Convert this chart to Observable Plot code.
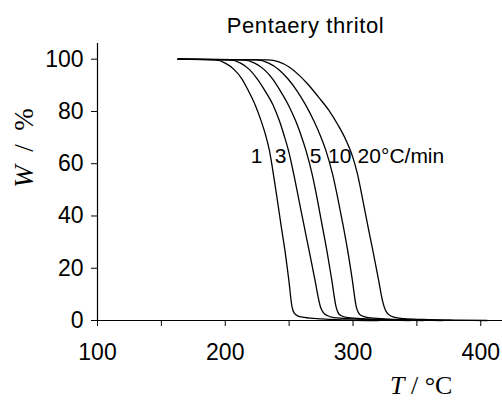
<!DOCTYPE html>
<html><head><meta charset="utf-8">
<script src="https://cdn.jsdelivr.net/npm/d3@7"></script>
<script src="https://cdn.jsdelivr.net/npm/@observablehq/plot@0.6"></script>
<style>body{margin:0;background:#fff} svg{display:block}</style>
</head><body><div id="chart"></div>
<script>
const title = "Pentaery thritol";
const rates = ["1", "3", "5", "10", "20"];
// Temperature (°C) and weight (%)
const t1 = [163, 192, 200, 207, 213, 218, 223.5, 228, 231.6, 234.6, 238, 240.8, 243.8, 246.7, 249.6, 252.3, 254, 256.5, 262, 275, 295, 320];
const w1 = [100, 99.7, 98.5, 96, 92.5, 88, 82.4, 76.5, 70.9, 65, 55, 46, 36, 26.8, 16, 5.1, 2.8, 1.8, 1.2, 0.6, 0.2, 0];
const t3 = [163, 203, 212, 219, 225, 231, 237.5, 242.3, 246, 249.5, 253.6, 257.7, 261.8, 265.6, 270, 274.6, 276.8, 279.8, 285, 300, 320, 345];
const w3 = [100, 99.7, 98.5, 96, 92.5, 88, 82.4, 76.5, 70.9, 65, 56, 46, 36, 26.8, 16, 5.1, 3, 1.9, 1.1, 0.6, 0.25, 0];
const t5 = [163, 213, 223, 230.5, 237, 243, 249.5, 255, 259.3, 263.2, 268, 272.2, 276, 279.5, 283.2, 286.8, 288.3, 290.5, 296, 310, 330, 355];
const w5 = [100, 99.7, 98.5, 96, 92.5, 88, 82.4, 76.5, 70.9, 65, 56, 46, 36, 26.8, 16, 5.1, 3, 1.9, 1.1, 0.6, 0.25, 0];
const t10 = [163, 224, 234, 242, 249, 256, 263, 269.2, 274.3, 278.8, 284, 288.4, 292.4, 295.8, 299.3, 302.6, 304.2, 306.3, 312, 325, 345, 370];
const w10 = [100, 99.7, 98.5, 96, 92.5, 88, 82.4, 76.5, 70.9, 65, 56, 46, 36, 26.8, 16, 5.1, 3, 1.9, 1.1, 0.6, 0.25, 0];
const t20 = [163, 233, 242, 250, 257.5, 264, 273, 281, 288, 294.5, 299.8, 303.5, 307.7, 312.3, 315.5, 319.8, 323, 325.3, 328, 333, 340, 355, 380, 405];
const w20 = [100, 99.7, 99, 97, 94, 90.8, 85.5, 80.5, 75, 69, 62.5, 56, 46, 34.5, 26.8, 16, 7.7, 4, 2.2, 1.2, 0.7, 0.4, 0.15, 0];
const labelText = ["1", "3", "5", "10"];
const labelT = [224.5, 243.3, 270.7, 289.6];
const lastLabel = "20°C/min";
const lastLabelT = 303.6;
const labelW = 63;
const xTicks = [100, 150, 200, 250, 300, 350, 400];
const yTicks = [0, 20, 40, 60, 80, 100];

const Ts = [t1, t3, t5, t10, t20];
const Ws = [w1, w3, w5, w10, w20];
const rows = [];
rates.forEach((r, i) => Ts[i].forEach((t, j) => rows.push({rate: r, T: t, W: Ws[i][j]})));
const labels = labelText.map((s, i) => ({s, T: labelT[i], W: labelW}));

const chart = Plot.plot({
  width: 502, height: 400,
  marginLeft: 97, marginRight: 0, marginTop: 43, marginBottom: 80,
  style: {fontFamily: "'Liberation Sans', Arial, sans-serif", background: "#fff", color: "#000", fontSize: "23px"},
  x: {domain: [100, 417]},
  y: {domain: [0, 106]},
  marks: [
    Plot.axisX({ticks: xTicks, tickFormat: d => d % 100 === 0 ? String(d) : "", tickSize: 6, tickPadding: 17, fontSize: 23, label: null}),
    Plot.axisY({ticks: yTicks, tickSize: 6, tickPadding: 8, fontSize: 23, label: null}),
    Plot.ruleX([100], {y1: 0, y2: 106, stroke: "#000", strokeWidth: 1.2}),
    Plot.ruleY([0], {x1: 100, x2: 417, stroke: "#000", strokeWidth: 1.2}),
    Plot.line(rows, {x: "T", y: "W", z: "rate", curve: "monotone-x", stroke: "#000", strokeWidth: 1.3}),
    Plot.text(labels, {x: "T", y: "W", text: "s", fontSize: 21, textAnchor: "middle"}),
    Plot.text([lastLabel], {x: () => lastLabelT, y: () => labelW, text: d => d, fontSize: 21, textAnchor: "start"}),
    Plot.text([title], {frameAnchor: "top", text: d => d, dx: 5.5, dy: -18, fontSize: 22, lineAnchor: "middle", letterSpacing: "0.6px"})
  ]
});
document.getElementById("chart").appendChild(chart);

const svg = d3.select(chart);
svg.selectAll("text").filter(function() { return this.textContent === title; }).style("letter-spacing", "0.6px");
const yl = svg.append("text")
  .attr("transform", "translate(24,148) rotate(-90)")
  .attr("text-anchor", "middle").attr("dominant-baseline", "central")
  .attr("font-family", "'Liberation Serif', 'Times New Roman', serif").attr("font-size", 27).attr("fill", "#000")
  .attr("xml:space", "preserve");
yl.append("tspan").attr("font-style", "italic").text("W");
yl.append("tspan").text("  /  %");
const xl = svg.append("text")
  .attr("x", 390).attr("y", 394)
  .attr("text-anchor", "start")
  .attr("font-family", "'Liberation Serif', 'Times New Roman', serif").attr("font-size", 26).attr("fill", "#000");
xl.append("tspan").attr("font-style", "italic").text("T");
xl.append("tspan").text(" / °C");
</script>
</body></html>
